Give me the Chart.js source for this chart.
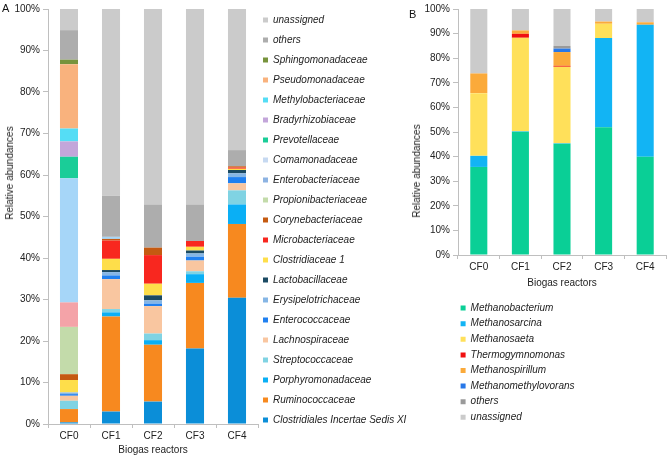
<!DOCTYPE html>
<html><head><meta charset="utf-8">
<script src="https://cdn.jsdelivr.net/npm/chart.js@4/dist/chart.umd.min.js"></script>
<style>
html,body{margin:0;padding:0;background:#fff;}
body{width:667px;height:457px;position:relative;overflow:hidden;font-family:'Liberation Sans',Arial,sans-serif;}
#wrapA{position:absolute;left:0;top:0;width:440px;height:457px;}
#wrapB{position:absolute;left:400px;top:0;width:267px;height:457px;}
.panel-label{position:absolute;font-size:11px;color:#111;line-height:12px;}
.ytitle{position:absolute;font-size:10px;color:#222;line-height:12px;white-space:nowrap;transform:translate(-50%,-50%) rotate(-90deg);}
</style></head><body>
<div id="wrapA"><canvas id="chartA" width="440" height="457"></canvas></div>
<div id="wrapB"><canvas id="chartB" width="267" height="457"></canvas></div>
<div class="panel-label" style="left:2px;top:2px">A</div>
<div class="panel-label" style="left:409px;top:8px">B</div>
<div class="ytitle" style="left:10px;top:173px">Relative abundances</div>
<div class="ytitle" style="left:417px;top:171px">Relative abundances</div>
<script>
// ---------- DATA ----------
const reactors = ['CF0', 'CF1', 'CF2', 'CF3', 'CF4'];
const yTickLabels = ['0%','10%','20%','30%','40%','50%','60%','70%','80%','90%','100%'];

// Panel A (families), stacked bottom -> top
const clostridialesXI      = [0.4, 3.0, 5.4, 18.2, 30.4];
const ruminococcaceae      = [3.2, 22.9, 13.7, 15.8, 17.8];
const porphyromonadaceae   = [0.0, 1.0, 1.1, 2.1, 4.7];
const streptococcaceae     = [2.0, 0.8, 1.6, 0.7, 3.4];
const lachnospiraceae      = [1.2, 7.2, 6.6, 2.6, 1.7];
const enterococcaceae      = [0.4, 0.9, 0.6, 0.9, 1.5];
const erysipelotrichaceae  = [0.4, 0.8, 0.8, 0.8, 0.9];
const lactobacillaceae     = [0.0, 0.5, 1.2, 0.7, 0.8];
const clostridiaceae1      = [3.0, 2.7, 2.8, 0.9, 0.3];
const microbacteriaceae    = [0.0, 4.4, 6.9, 1.4, 0.3];
const corynebacteriaceae   = [1.4, 0.4, 1.8, 0.0, 0.3];
const propionibacteriaceae = [11.4, 0, 0, 0, 0];
const enterobacteriaceae   = [5.9, 0, 0, 0, 0];
const comamonadaceae       = [29.9, 0.5, 0, 0, 0];
const prevotellaceae       = [5.2, 0, 0, 0, 0];
const bradyrhizobiaceae    = [3.7, 0, 0, 0, 0];
const methylobacteriaceae  = [3.1, 0, 0, 0, 0];
const pseudomonadaceae     = [15.5, 0, 0, 0, 0];
const sphingomonadaceae    = [1.1, 0, 0, 0, 0];
const othersA              = [7.1, 9.9, 10.3, 8.7, 3.9];
const unassignedA          = [5.1, 45.0, 47.2, 47.2, 34.0];

const familyNames = ['Clostridiales Incertae Sedis XI','Ruminococcaceae','Porphyromonadaceae','Streptococcaceae',
  'Lachnospiraceae','Enterococcaceae','Erysipelotrichaceae','Lactobacillaceae','Clostridiaceae 1',
  'Microbacteriaceae','Corynebacteriaceae','Propionibacteriaceae','Enterobacteriaceae','Comamonadaceae',
  'Prevotellaceae','Bradyrhizobiaceae','Methylobacteriaceae','Pseudomonadaceae','Sphingomonadaceae','others','unassigned'];
const familyValues = [clostridialesXI, ruminococcaceae, porphyromonadaceae, streptococcaceae, lachnospiraceae,
  enterococcaceae, erysipelotrichaceae, lactobacillaceae, clostridiaceae1, microbacteriaceae, corynebacteriaceae,
  propionibacteriaceae, enterobacteriaceae, comamonadaceae, prevotellaceae, bradyrhizobiaceae, methylobacteriaceae,
  pseudomonadaceae, sphingomonadaceae, othersA, unassignedA];

// Panel B (genera), stacked bottom -> top
const methanobacterium     = [35.8, 50.1, 45.2, 51.9, 39.9];
const methanosarcina       = [4.5, 0.2, 0.2, 36.3, 53.7];
const methanosaeta         = [25.5, 38.0, 31.1, 5.8, 0.0];
const thermogymnomonas     = [0.0, 1.6, 0.4, 0.0, 0.0];
const methanospirillum     = [8.0, 1.4, 5.6, 0.9, 1.0];
const methanomethylovorans = [0.0, 0.0, 1.4, 0.0, 0.0];
const othersB              = [0.0, 0.0, 1.1, 0.0, 0.0];
const unassignedB          = [26.2, 8.7, 15.0, 5.1, 5.4];

const genusNames = ['Methanobacterium','Methanosarcina','Methanosaeta','Thermogymnomonas','Methanospirillum',
  'Methanomethylovorans','others','unassigned'];
const genusValues = [methanobacterium, methanosarcina, methanosaeta, thermogymnomonas, methanospirillum,
  methanomethylovorans, othersB, unassignedB];

// ---------- STYLE ----------
const familyColors = ['#0B8ED8','#F7891F','#0AAFF5','#80D3E3','#F9C6A0','#2080F0','#86B6E5','#1B4A63','#FEDE4A',
  '#F8271F','#C55A11','#C3DBAA','#F4A3A8','#A6D6F8','#1ACD98','#C3A6DA','#55DDF5','#F9B27D','#77933C','#ADADAD','#CBCBCB'];
const familyLegendColors = {12: '#8DB3E2', 13: '#C6D9F1'};
const genusColors = ['#0ACF96','#12B4F4','#FFE05A','#F01010','#FBAA3A','#2878E8','#9A9A9A','#CBCBCB'];

const FONT = "'Liberation Sans', Arial, sans-serif";
const AXIS = '#BFBFBF';
const TEXT = '#222';

const placeLegend = {
  id: 'placeLegend',
  afterLayout(chart, args, opts) {
    const lg = chart.legend;
    if (!lg || opts.left === undefined) return;
    lg.left = opts.left; lg.top = opts.top;
    lg.width = opts.width; lg.height = opts.height;
    lg.right = opts.left + opts.width; lg.bottom = opts.top + opts.height;
  }
};

function legendGen(chart) {
  const items = Chart.defaults.plugins.legend.labels.generateLabels(chart);
  items.forEach(it => {
    const c = chart.data.datasets[it.datasetIndex].legendColor;
    if (c) { it.fillStyle = c; it.strokeStyle = c; }
    it.lineWidth = 0;
  });
  return items;
}

function makeScales(xh, yw) {
  return {
    x: {
      stacked: true,
      offset: true,
      afterFit(s) { s.height = xh; },
      grid: { display: true, drawOnChartArea: false, drawTicks: true, tickLength: 4, color: AXIS, offset: true },
      border: { display: true, color: AXIS, width: 1 },
      ticks: { color: TEXT, font: { family: FONT, size: 10 }, padding: 2 },
      title: { display: true, text: 'Biogas reactors', color: TEXT, font: { family: FONT, size: 10 }, padding: { top: 0, bottom: 1 } }
    },
    y: {
      stacked: true,
      min: 0, max: 100,
      afterFit(s) { s.width = yw; },
      grid: { display: true, drawOnChartArea: false, drawTicks: true, tickLength: 5, color: AXIS },
      border: { display: true, color: AXIS, width: 1 },
      ticks: { stepSize: 10, color: TEXT, font: { family: FONT, size: 10 }, padding: 3,
        callback: (v) => yTickLabels[Math.round(v / 10)] }
    }
  };
}

// ---------- CHART A ----------
new Chart(document.getElementById('chartA'), {
  type: 'bar',
  data: {
    labels: reactors,
    datasets: familyNames.map((n, i) => ({
      label: n, data: familyValues[i], backgroundColor: familyColors[i],
      legendColor: familyLegendColors[i], borderWidth: 0,
      barPercentage: 0.43, categoryPercentage: 1.0
    }))
  },
  options: {
    responsive: false, animation: false,
    layout: { padding: { left: 0, top: 8, right: 181, bottom: 0 } },
    scales: makeScales(33, 48),
    plugins: {
      tooltip: { enabled: false },
      legend: {
        position: 'right', align: 'start', reverse: true, maxWidth: 1,
        labels: { boxWidth: 5, boxHeight: 5, padding: 10, color: TEXT,
          font: { family: FONT, size: 10, style: 'italic' }, generateLabels: legendGen }
      },
      placeLegend: { left: 253, top: 5, width: 187, height: 450 }
    }
  },
  plugins: [placeLegend]
});

// ---------- CHART B ----------
new Chart(document.getElementById('chartB'), {
  type: 'bar',
  data: {
    labels: reactors,
    datasets: genusNames.map((n, i) => ({
      label: n, data: genusValues[i], backgroundColor: genusColors[i], borderWidth: 0,
      barPercentage: 0.41, categoryPercentage: 1.0
    }))
  },
  options: {
    responsive: false, animation: false,
    layout: { padding: { left: 7, top: 7, right: 1, bottom: 167 } },
    scales: makeScales(35, 51),
    plugins: {
      tooltip: { enabled: false },
      legend: {
        position: 'chartArea', align: 'start',
        labels: { boxWidth: 5, boxHeight: 5, padding: 5.6, color: TEXT,
          font: { family: FONT, size: 10, style: 'italic' }, generateLabels: legendGen }
      },
      placeLegend: { left: 55, top: 297.5, width: 200, height: 150 }
    }
  },
  plugins: [placeLegend]
});
</script>
</body></html>
